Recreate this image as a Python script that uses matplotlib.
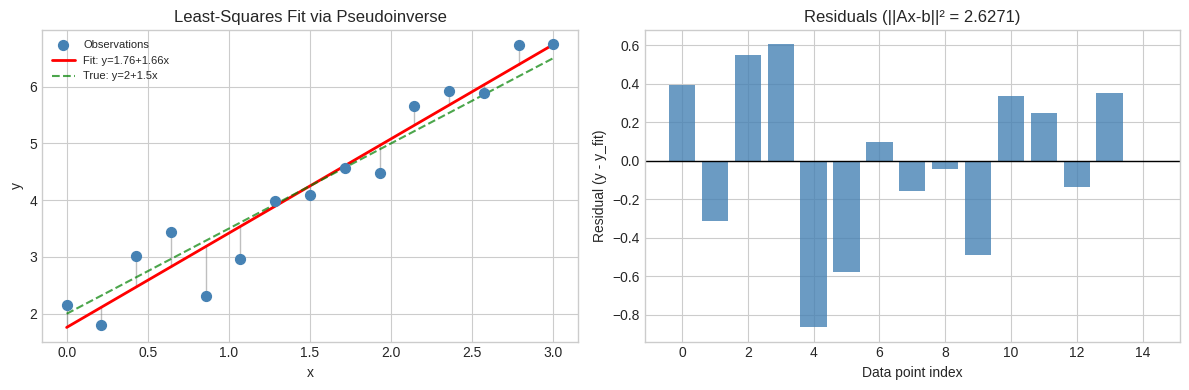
import numpy as np
import matplotlib.pyplot as plt

plt.style.use('seaborn-v0_8-whitegrid')

# observations
x = np.linspace(0, 3, 15)
y_obs = [2.155, 1.806, 3.021, 3.432, 2.318, 2.964, 3.994, 4.095, 4.566, 4.471,
         5.652, 5.923, 5.894, 6.739, 6.74]
y_obs = np.array(y_obs)

fit_a, fit_b = 1.76, 1.66
true_a, true_b = 2.0, 1.5
residual_norm = 2.6271

y_fit = fit_a + fit_b * x
y_true = true_a + true_b * x
resid = y_obs - y_fit

fig, (ax1, ax2) = plt.subplots(1, 2, figsize=(12, 4), dpi=100)

# left: data + fits
for xi, yo, yf in zip(x, y_obs, y_fit):
    ax1.plot([xi, xi], [yo, yf], color='gray', alpha=0.5, lw=1)
ax1.scatter(x, y_obs, color='steelblue', s=50, zorder=5, label='Observations')
ax1.plot(x, y_fit, 'r-', lw=2, label=f'Fit: y={fit_a:.2f}+{fit_b:.2f}x')
ax1.plot(x, y_true, 'g--', lw=1.5, alpha=0.7, label='True: y=2+1.5x')
ax1.set_xlabel('x')
ax1.set_ylabel('y')
ax1.set_title('Least-Squares Fit via Pseudoinverse')
ax1.legend(fontsize=8, loc='upper left')

# right: residual bars
idx = np.arange(len(resid))
ax2.bar(idx, resid, color='steelblue', alpha=0.8)
ax2.axhline(0, color='black', lw=1)
ax2.set_xlabel('Data point index')
ax2.set_ylabel('Residual (y - y_fit)')
ax2.set_title(f'Residuals (||Ax-b||² = {residual_norm:.4f})')

plt.tight_layout()
plt.savefig('out.png', bbox_inches='tight')
